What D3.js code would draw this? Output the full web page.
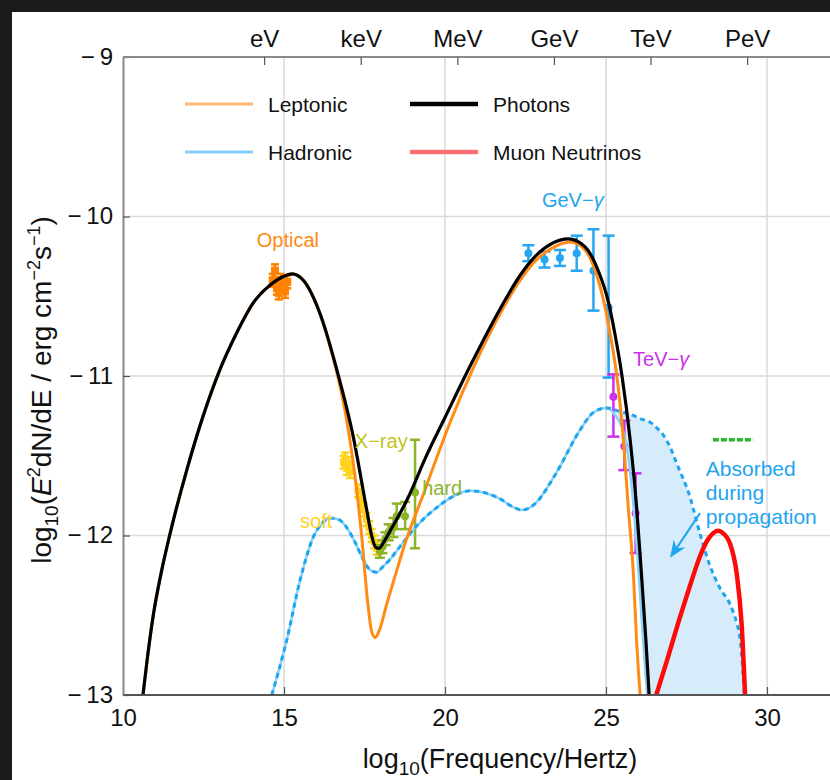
<!DOCTYPE html>
<html>
<head>
<meta charset="utf-8">
<script src="https://cdn.jsdelivr.net/npm/d3@7"></script>
<style>
  body{margin:0;background:#1b1b1b;}
  svg{display:block;}
  text{font-family:"Liberation Sans",Arial,sans-serif;}
</style>
</head>
<body>
<svg id="chart" width="830" height="780"></svg>
<script>
// data ------------------------------------------------

// model curves, [log10 nu, log10 flux]
var photonCurve=[[10.62,-13],[10.75,-12.78],[10.94,-12.5],[11.2,-12.22],[11.46,-11.99],[11.98,-11.59],[12.49,-11.25],[13.01,-10.96],[13.53,-10.73],[14.05,-10.54],[14.57,-10.43],[15.0,-10.375],[15.25,-10.36],[15.6,-10.40],[16.12,-10.61],[16.64,-10.96],[17.15,-11.38],[17.57,-11.84],[17.72,-12.0],[17.85,-12.075],[17.95,-12.08],[18.1,-12.04],[18.3,-11.97],[18.86,-11.76],[19.4,-11.51],[20.0,-11.26],[20.8,-10.93],[21.71,-10.58],[22.33,-10.37],[22.8,-10.25],[23.31,-10.17],[23.83,-10.14],[24.35,-10.19],[24.76,-10.34],[25.08,-10.54],[25.28,-10.74],[25.49,-10.99],[25.75,-11.40],[25.95,-11.82],[26.1,-12.24],[26.24,-12.66],[26.34,-13]];
var leptonCurve=[[10.62,-13],[10.75,-12.78],[10.94,-12.5],[11.2,-12.22],[11.46,-11.99],[11.98,-11.59],[12.49,-11.25],[13.01,-10.96],[13.53,-10.73],[14.05,-10.54],[14.57,-10.43],[15.0,-10.375],[15.25,-10.36],[15.6,-10.40],[16.12,-10.61],[16.45,-10.83],[16.7,-11.03],[16.95,-11.28],[17.2,-11.62],[17.42,-12.02],[17.6,-12.42],[17.72,-12.6],[17.83,-12.64],[17.95,-12.6],[18.19,-12.43],[18.5,-12.22],[18.71,-12.08],[19.33,-11.74],[20.16,-11.29],[20.9,-10.94],[21.71,-10.61],[22.33,-10.4],[22.8,-10.28],[23.31,-10.2],[23.9,-10.16],[24.35,-10.21],[24.7,-10.36],[24.95,-10.55],[25.15,-10.76],[25.33,-10.99],[25.54,-11.40],[25.69,-11.82],[25.85,-12.24],[25.95,-12.66],[26.06,-13]];
var hadronCurve=[[14.62,-13],[15.08,-12.66],[15.5,-12.28],[15.91,-12.01],[16.2,-11.92],[16.43,-11.89],[16.7,-11.9],[16.95,-11.95],[17.2,-12.04],[17.46,-12.15],[17.7,-12.22],[17.88,-12.23],[18.05,-12.2],[18.29,-12.15],[18.6,-12.07],[19.12,-11.94],[19.84,-11.81],[20.4,-11.74],[20.78,-11.72],[21.2,-11.73],[21.71,-11.77],[22.1,-11.82],[22.4,-11.84],[22.8,-11.8],[23.42,-11.62],[24.19,-11.34],[24.6,-11.23],[25.02,-11.2]];
var hadronIntrinsicTail=[[25.02,-11.2],[25.4,-11.22],[25.75,-11.24],[26.1,-11.27],[26.37,-11.29],[26.6,-11.33],[26.78,-11.37],[27.0,-11.45],[27.2,-11.55],[27.61,-11.76],[27.92,-11.99],[28.23,-12.19],[28.54,-12.33],[28.85,-12.43],[29.06,-12.55],[29.16,-12.64],[29.3,-13]];
var hadronObservedTail=[[25.02,-11.2],[25.3,-11.25],[25.49,-11.32],[25.64,-11.44],[25.8,-11.7],[25.95,-12.05],[26.1,-12.5],[26.22,-12.85],[26.28,-13]];
var neutrinoCurve=[[26.56,-13],[26.9,-12.78],[27.3,-12.51],[27.6,-12.32],[27.92,-12.13],[28.15,-12.03],[28.33,-11.985],[28.48,-11.97],[28.6,-11.98],[28.85,-12.05],[29.06,-12.24],[29.21,-12.55],[29.32,-13]];
var neutrinoLimitX=[28.32,29.57];
var neutrinoLimitY=-11.40;

// measurements
var opticalX=[14.65,14.72,14.78,14.84,14.9,14.97,15.03,15.1];
var opticalY=[-10.40,-10.34,-10.45,-10.48,-10.40,-10.44,-10.47,-10.41];
var opticalErr=[0.04,0.04,0.04,0.04,0.04,0.04,0.04,0.04];

var softX=[16.85,16.9,16.95,17.0,17.05,17.3,17.4,17.48,17.56,17.64,17.72,17.8,17.88];
var softY=[-11.54,-11.52,-11.58,-11.55,-11.6,-11.72,-11.78,-11.84,-11.9,-11.95,-12.0,-12.04,-12.08];
var softErr=[0.04,0.04,0.04,0.04,0.04,0.04,0.04,0.04,0.04,0.04,0.04,0.04,0.04];

var hardX=[17.98,18.06,18.15,18.25,18.4,18.5,18.76,19.07];
var hardY=[-12.10,-12.07,-12.02,-11.98,-11.95,-11.88,-11.88,-11.73];
var hardLo=[-12.14,-12.11,-12.06,-12.03,-12.01,-11.96,-11.96,-12.08];
var hardHi=[-12.06,-12.03,-11.98,-11.93,-11.89,-11.80,-11.79,-11.40];

var gevX=[22.59,23.09,23.57,24.09,24.61,25.08];
var gevY=[-10.23,-10.27,-10.26,-10.23,-10.34,-10.57];
var gevLo=[-10.28,-10.32,-10.31,-10.34,-10.59,-11.01];
var gevHi=[-10.18,-10.22,-10.21,-10.12,-10.08,-10.12];

var tevX=[25.23,25.57,25.92];
var tevY=[-11.13,-11.44,-11.86];
var tevLo=[-11.38,-11.59,-12.11];
var tevHi=[-10.99,-11.28,-11.61];

// axes
var xTicks=[10,15,20,25,30];
var yTicks=[-13,-12,-11,-10,-9];
var energyNames=['eV','keV','MeV','GeV','TeV','PeV'];
var energyPos=[14.383,17.383,20.383,23.383,26.383,29.383];

var legendNames=['Leptonic','Photons','Hadronic','Muon Neutrinos'];
var legendColors=['#ffb574','#000000','#85cff7','#ff7070'];

// setup -----------------------------------------------
var svg=d3.select('#chart');
svg.append('rect').attr('x',12).attr('y',12).attr('width',830).attr('height',780).attr('fill','#fff');

var x=d3.scaleLinear().domain([10,32]).range([123,123+22*32.2]);
var y=d3.scaleLinear().domain([-13,-9]).range([695,57]);

svg.append('clipPath').attr('id','plotclip').append('rect')
  .attr('x',123).attr('y',57).attr('width',720).attr('height',638);

// grid
var grid=svg.append('g').attr('stroke','#dadada').attr('stroke-width',1.5);
xTicks.filter(d=>d>10).forEach(d=>{
  grid.append('line').attr('x1',x(d)).attr('x2',x(d)).attr('y1',y(-9)).attr('y2',y(-13));
});
yTicks.filter(d=>d>-13&&d<-9).forEach(d=>{
  grid.append('line').attr('x1',x(10)).attr('x2',840).attr('y1',y(d)).attr('y2',y(d));
});

var plot=svg.append('g').attr('clip-path','url(#plotclip)');
var line=d3.line().x(d=>x(d[0])).y(d=>y(d[1])).curve(d3.curveMonotoneX);

// absorbed region
var fillPath=line(hadronIntrinsicTail)+line(hadronObservedTail.slice().reverse()).replace(/^M/,'L')+'Z';
plot.append('path').attr('d',fillPath).attr('fill','#d6ecfb');

// error bars and points
function errorBars(xs,ys,lo,hi,color,cap,r,square){
  var g=plot.append('g').attr('stroke',color).attr('fill',color).attr('stroke-width',2.5);
  xs.forEach((xv,i)=>{
    var px=x(xv);
    g.append('line').attr('x1',px).attr('x2',px).attr('y1',y(lo[i])).attr('y2',y(hi[i]));
    g.append('line').attr('x1',px-cap).attr('x2',px+cap).attr('y1',y(lo[i])).attr('y2',y(lo[i]));
    g.append('line').attr('x1',px-cap).attr('x2',px+cap).attr('y1',y(hi[i])).attr('y2',y(hi[i]));
    if(square){
      g.append('rect').attr('x',px-r).attr('y',y(ys[i])-r).attr('width',2*r).attr('height',2*r).attr('stroke','none');
    }else{
      g.append('circle').attr('cx',px).attr('cy',y(ys[i])).attr('r',r).attr('stroke','none');
    }
  });
}
errorBars(opticalX,opticalY,opticalY.map((v,i)=>v-opticalErr[i]),opticalY.map((v,i)=>v+opticalErr[i]),'#ff8200',4,4,true);
errorBars(softX,softY,softY.map((v,i)=>v-softErr[i]),softY.map((v,i)=>v+softErr[i]),'#ffd21e',4,3.5,true);
errorBars(hardX,hardY,hardLo,hardHi,'#8cb428',5,4,false);
errorBars(gevX,gevY,gevLo,gevHi,'#25a6f2',6,4,false);
errorBars(tevX,tevY,tevLo,tevHi,'#cc30ee',6,4,false);

// curves
plot.append('path').attr('d',line(hadronCurve.concat(hadronObservedTail.slice(1))))
  .attr('fill','none').attr('stroke','#8ad1f8').attr('stroke-width',2.5);
plot.append('path').attr('d',line(hadronCurve.concat(hadronIntrinsicTail.slice(1))))
  .attr('fill','none').attr('stroke','#1ea5f0').attr('stroke-width',3).attr('stroke-dasharray','5,4');
plot.append('path').attr('d',line(leptonCurve))
  .attr('fill','none').attr('stroke','#ff8a14').attr('stroke-width',3);
plot.append('path').attr('d',line(photonCurve))
  .attr('fill','none').attr('stroke','#000').attr('stroke-width',3.2);
plot.append('path').attr('d',line(neutrinoCurve))
  .attr('fill','none').attr('stroke','#ff0a0a').attr('stroke-width',4.5);
plot.append('line')
  .attr('x1',x(neutrinoLimitX[0])).attr('x2',x(neutrinoLimitX[1]))
  .attr('y1',y(neutrinoLimitY)).attr('y2',y(neutrinoLimitY))
  .attr('stroke','#2db52d').attr('stroke-width',3.5).attr('stroke-dasharray','6,2');

// arrow
var ax0=x(27.92),ay0=y(-11.86),ax1=x(26.99),ay1=y(-12.14);
var ang=Math.atan2(ay1-ay0,ax1-ax0);
plot.append('line').attr('x1',ax0).attr('y1',ay0)
  .attr('x2',ax1-12*Math.cos(ang)).attr('y2',ay1-12*Math.sin(ang))
  .attr('stroke','#1ea5f0').attr('stroke-width',2);
var hl=17,hw=7;
plot.append('polygon').attr('fill','#1ea5f0').attr('points',[
  [ax1,ay1],
  [ax1-hl*Math.cos(ang)+hw*Math.sin(ang),ay1-hl*Math.sin(ang)-hw*Math.cos(ang)],
  [ax1-hl*0.7*Math.cos(ang),ay1-hl*0.7*Math.sin(ang)],
  [ax1-hl*Math.cos(ang)-hw*Math.sin(ang),ay1-hl*Math.sin(ang)+hw*Math.cos(ang)]
].map(p=>p.join(',')).join(' '));

// annotation labels
function label(txt,xv,yv,color,anchor,size){
  return svg.append('text').attr('x',x(xv)).attr('y',y(yv)).attr('fill',color)
    .attr('font-size',size||20).attr('text-anchor',anchor||'start').text(txt);
}
label('Optical',15.12,-10.19,'#ff8a14','middle');
label('X\u2212ray',17.2,-11.45,'#c4c41c');
label('hard',19.29,-11.746,'#8cb432');
label('soft',15.5,-11.95,'#ffd21e');
var gl=label('GeV\u2212',23.01,-9.94,'#1ea5f0');
gl.append('tspan').attr('font-style','italic').text('\u03b3');
var tl=label('TeV\u2212',25.84,-10.94,'#cc30ee');
tl.append('tspan').attr('font-style','italic').text('\u03b3');
label('Absorbed',28.1,-11.63,'#1ea5f0','start',21);
label('during',28.1,-11.78,'#1ea5f0','start',21);
label('propagation',28.1,-11.925,'#1ea5f0','start',21);

// axes ------------------------------------------------
function styleAxis(g){
  g.select('.domain').attr('stroke','#8a8a8a').attr('stroke-width',2);
  g.selectAll('.tick line').attr('stroke','#555').attr('stroke-width',1.2);
  g.selectAll('.tick text').attr('fill','#111').attr('font-size',24)
    .attr('font-family','"Liberation Sans",Arial,sans-serif');
}
var gBottom=svg.append('g').attr('transform','translate(0,695)')
  .call(d3.axisBottom(x).tickValues(xTicks).tickSize(-8).tickSizeOuter(0).tickPadding(14));
gBottom.select('.domain').attr('d','M123,0H840');
styleAxis(gBottom);
gBottom.select('.domain').attr('stroke','#555');

var gLeft=svg.append('g').attr('transform','translate(123,0)')
  .call(d3.axisLeft(y).tickValues(yTicks).tickSize(-7).tickSizeOuter(0).tickPadding(10)
    .tickFormat(d=>'\u2212\u2009'+Math.abs(d)));
styleAxis(gLeft);
gLeft.selectAll('.tick text').attr('dy','0.3em');

var gTop=svg.append('g').attr('transform','translate(0,57)')
  .call(d3.axisTop(x).tickValues(energyPos).tickSize(-8).tickSizeOuter(0).tickPadding(10)
    .tickFormat((d,i)=>energyNames[i]));
gTop.select('.domain').attr('d','M123,0H840');
styleAxis(gTop);

// axis titles
var xt=svg.append('text').attr('x',500).attr('y',768).attr('text-anchor','middle')
  .attr('font-size',27).attr('fill','#111');
xt.append('tspan').text('log');
xt.append('tspan').attr('font-size',19).attr('dy',7).text('10');
xt.append('tspan').attr('dy',-7).text('(Frequency/Hertz)');

var yt=svg.append('text').attr('transform','translate(51,390) rotate(-90)').attr('text-anchor','middle')
  .attr('font-size',28).attr('fill','#111');
yt.append('tspan').text('log');
yt.append('tspan').attr('font-size',19).attr('dy',7).text('10');
yt.append('tspan').attr('dy',-7).text('(');
yt.append('tspan').attr('font-style','italic').text('E');
yt.append('tspan').attr('font-size',18).attr('dy',-11).text('2');
yt.append('tspan').attr('dy',11).text('dN/dE / erg cm');
yt.append('tspan').attr('font-size',18).attr('dy',-11).text('\u22122');
yt.append('tspan').attr('dy',11).text('s');
yt.append('tspan').attr('font-size',18).attr('dy',-11).text('\u22121');
yt.append('tspan').attr('dy',11).text(')');

// legend
var legend=svg.append('g');
legendNames.forEach((name,i)=>{
  var lx=185+(i%2)*225, ly=104+Math.floor(i/2)*48;
  legend.append('line').attr('x1',lx).attr('x2',lx+68).attr('y1',ly).attr('y2',ly)
    .attr('stroke',legendColors[i]).attr('stroke-width',i%2?4.5:3);
  legend.append('text').attr('x',lx+83).attr('y',ly+8).attr('font-size',21)
    .attr('fill','#111').text(name);
});
</script>
</body>
</html>
